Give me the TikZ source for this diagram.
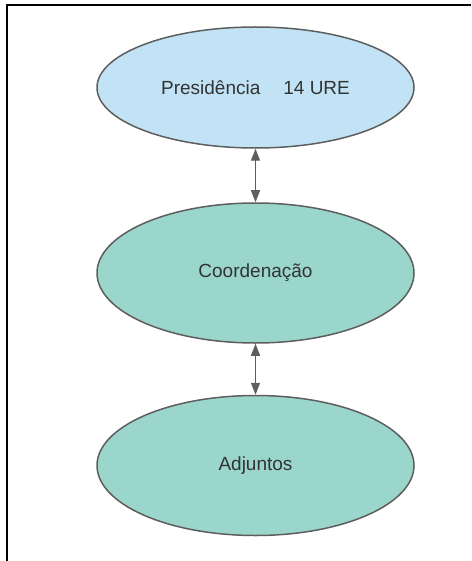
\documentclass[tikz,border=0pt]{standalone}
\usepackage{fontspec}
\setmainfont{Liberation Sans}
\usetikzlibrary{shapes.geometric,arrows.meta}
\definecolor{presblue}{RGB}{194,227,245}
\definecolor{teallight}{RGB}{154,214,203}
\definecolor{edgegrey}{RGB}{94,94,94}
\definecolor{textgrey}{RGB}{51,51,51}

\begin{document}
\begin{tikzpicture}[x=1pt,y=-1pt,
  unit/.style={ellipse,draw=edgegrey,line width=1.5pt,minimum width=317pt,minimum height=140pt,
    inner sep=0pt,text=textgrey,font=\fontsize{19}{22}\selectfont},
  link/.style={draw=edgegrey,line width=1.3pt,
    {Triangle[length=12pt,width=9pt]}-{Triangle[length=12pt,width=9pt]}}]

\useasboundingbox (0,0) rectangle (471,561);
\draw [line width=2.6pt] (7,561) -- (7,5) -- (471,5);

\node[unit,fill=presblue,minimum height=121pt] (pres) at (255.5,87.5) {Presidência\hspace{23pt}14 URE};
\node[unit,fill=teallight] (coord) at (255.5,273) {Coordenação};
\node[unit,fill=teallight] (adj) at (255.5,465.5) {Adjuntos};

\draw[link] (pres) -- (coord);
\draw[link] (coord) -- (adj);

\end{tikzpicture}
\end{document}
